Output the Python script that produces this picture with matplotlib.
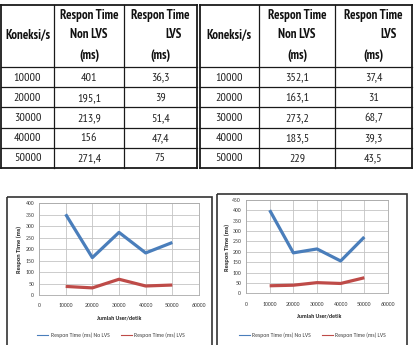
import matplotlib
matplotlib.use('Agg')
import matplotlib.pyplot as plt
from matplotlib import font_manager
from matplotlib.lines import Line2D
from matplotlib.patches import Rectangle

# ---------------- data ----------------
koneksi = [10000, 20000, 30000, 40000, 50000]
tbl1_nonlvs = [401, 195.1, 213.9, 156, 271.4]
tbl1_lvs = [36.3, 39, 51.4, 47.4, 75]
tbl2_nonlvs = [352.1, 163.1, 273.2, 183.5, 229]
tbl2_lvs = [37.4, 31, 68.7, 39.3, 43.5]

header_koneksi = "Koneksi/s"
header_nonlvs = ["Respon Time", "Non LVS", "(ms)"]
header_lvs = ["Respon Time", "LVS", "(ms)"]

x_ticks = [0, 10000, 20000, 30000, 40000, 50000, 60000]
y_ticks_left = [0, 50, 100, 150, 200, 250, 300, 350, 400]
y_ticks_right = [0, 50, 100, 150, 200, 250, 300, 350, 400, 450]
x_label = "Jumlah User/detik"
y_label = "Respon Time (ms)"
legend_nonlvs = "Respon Time (ms) No LVS"
legend_lvs = "Respon Time (ms) LVS"

# ---------------- fonts ----------------
names = {f.name for f in font_manager.fontManager.ttflist}


def pick(cands):
    for c in cands:
        if c in names:
            return c
    return 'DejaVu Sans'


narrow = pick(['Liberation Sans Narrow', 'Arial Narrow', 'PT Sans Narrow', 'Roboto Condensed',
               'Archivo Narrow', 'Liberation Sans'])
chartfont = pick(['Carlito', 'Calibri', 'Liberation Sans'])

W, H = 415, 345
fig = plt.figure(figsize=(W / 100, H / 100), dpi=100)
bg = fig.add_axes([0, 0, 1, 1])
bg.set_xlim(0, W)
bg.set_ylim(H, 0)
bg.axis('off')
renderer = fig.canvas.get_renderer()


def fit_size(s, family, target_px, weight='normal'):
    t = bg.text(0, 0, s, fontsize=10, family=family, weight=weight)
    w = t.get_window_extent(renderer).width
    t.remove()
    return 10 * target_px / w


num_size = fit_size("10000", narrow, 27.3)
hdr_size = fit_size("Respon Time", narrow, 59, 'bold')
tick_size = fit_size("10000", chartfont, 15)
leg_size = fit_size(legend_nonlvs, chartfont, 60)
xlab_size = fit_size(x_label, chartfont, 44, 'bold')
ylab_size = fit_size(y_label, chartfont, 47, 'bold')


def fmt(v):
    return f"{v:g}".replace('.', ',')


def draw_table(xe, ye, col2, col3):
    for i, x in enumerate(xe):
        lw = 1.3 if i in (0, len(xe) - 1) else 0.9
        bg.plot([x, x], [ye[0], ye[-1]], color='#1a1a1a', lw=lw, solid_capstyle='projecting')
    for i, y in enumerate(ye):
        lw = 1.3 if i in (0, len(ye) - 1) else 0.9
        bg.plot([xe[0], xe[-1]], [y, y], color='#1a1a1a', lw=lw, solid_capstyle='projecting')
    c1 = (xe[0] + xe[1]) / 2
    c2 = (xe[1] + xe[2]) / 2
    c3 = (xe[2] + xe[3]) / 2
    hy = [15, 35, 55]
    kw = dict(family=narrow, fontsize=hdr_size, weight='bold', color='#111111', va='center')
    bg.text(c1, hy[1], header_koneksi, ha='center', **kw)
    for t, y in zip(header_nonlvs, hy):
        bg.text(c2, y, t, ha='center', **kw)
    bg.text(c3, hy[0], header_lvs[0], ha='center', **kw)
    bg.text(xe[3] - 15, hy[1], header_lvs[1], ha='right', **kw)
    bg.text(c3, hy[2], header_lvs[2], ha='center', **kw)
    kw2 = dict(family=narrow, fontsize=num_size, color='#222222', va='center', ha='center')
    for i in range(len(koneksi)):
        yc = (ye[i + 1] + ye[i + 2]) / 2 + 0.5
        bg.text(c1, yc, str(koneksi[i]), **kw2)
        bg.text(c2, yc, fmt(col2[i]), **kw2)
        bg.text(c3, yc, fmt(col3[i]), **kw2)


ye = [5, 67, 87.2, 107.4, 127.6, 147.8, 168]
draw_table([1, 54, 124, 196.5], ye, tbl1_nonlvs, tbl1_lvs)
draw_table([199.5, 259, 335, 412], ye, tbl2_nonlvs, tbl2_lvs)

# chart frames
bg.add_patch(Rectangle((7, 197), 205, 170, fill=False, ec='#333333', lw=1.2))
bg.add_patch(Rectangle((217, 193.5), 190, 170, fill=False, ec='#333333', lw=1.2))


def draw_chart(rect, nonlvs, lvs, yticks, leg_x, leg_y, ylab_xy, xlab_xy):
    l, t, r, b = rect
    ax = fig.add_axes([l / W, (H - b) / H, (r - l) / W, (b - t) / H])
    ax.plot(koneksi, nonlvs, color='#4A7EBB', lw=2.3, solid_joinstyle='round', solid_capstyle='butt')
    ax.plot(koneksi, lvs, color='#BE4B48', lw=2.3, solid_joinstyle='round', solid_capstyle='butt')
    ax.set_xlim(x_ticks[0], x_ticks[-1])
    ax.set_ylim(yticks[0], yticks[-1])
    ax.set_xticks(x_ticks)
    ax.set_yticks(yticks)
    ax.set_xticklabels([str(v) for v in x_ticks], family=chartfont, fontsize=tick_size, color='#404040')
    ax.set_yticklabels([str(v) for v in yticks], family=chartfont, fontsize=tick_size, color='#404040')
    ax.tick_params(length=0)
    ax.tick_params(axis='x', pad=6.0)
    ax.tick_params(axis='y', pad=3.5)
    ax.grid(True, color='#c4c4c4', lw=0.6)
    ax.set_axisbelow(True)
    for s in ax.spines.values():
        s.set_color('#a8a8a8')
        s.set_linewidth(0.6)
    handles = [Line2D([], [], color='#4A7EBB', lw=0.8), Line2D([], [], color='#BE4B48', lw=0.8)]
    ax.legend(handles, [legend_nonlvs, legend_lvs], loc='center', bbox_to_anchor=(leg_x, leg_y),
              ncol=2, frameon=False, prop={'family': chartfont, 'size': leg_size},
              handlelength=1.9, handletextpad=0.4, columnspacing=1.9, labelcolor='#404040')
    bg.text(ylab_xy[0], ylab_xy[1], y_label, rotation=90, ha='center', va='center',
            family=chartfont, fontsize=ylab_size, weight='bold', color='#222222')
    bg.text(xlab_xy[0], xlab_xy[1], x_label, ha='center', va='center',
            family=chartfont, fontsize=xlab_size, weight='bold', color='#222222')
    return ax


draw_chart((39, 203.3, 199, 295), tbl2_nonlvs, tbl2_lvs, y_ticks_left, 0.45, -0.436, (19, 249), (119, 318))
draw_chart((246, 200, 388, 293.3), tbl1_nonlvs, tbl1_lvs, y_ticks_right, 0.468, -0.447, (227, 247), (319, 316))

fig.savefig('out.png', dpi=100)
